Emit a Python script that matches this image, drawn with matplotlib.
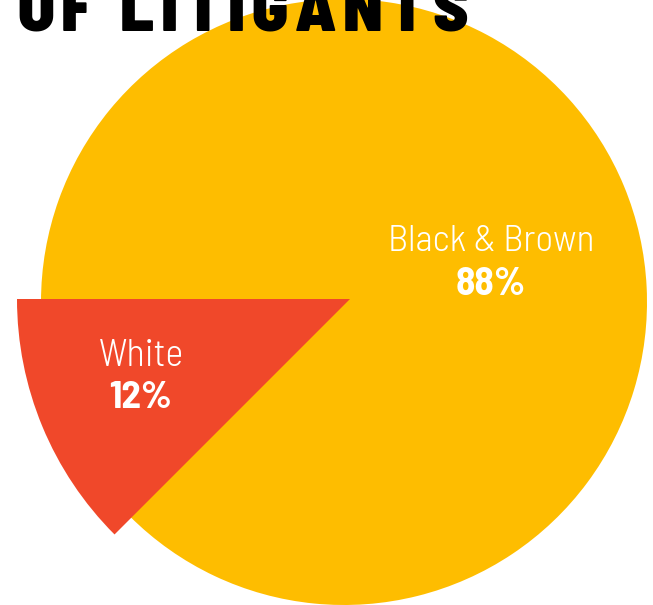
import matplotlib
matplotlib.use("Agg")
import matplotlib.pyplot as plt

# shares (the labels are the rounded figures)
groups = ["Black & Brown", "White"]
shares = [87.5, 12.5]
pct_labels = ["88%", "12%"]
colors = ["#FEBD00", "#F0482A"]
title = "OF LITIGANTS"

W, H = 653, 605
fig = plt.figure(figsize=(W / 100, H / 100), dpi=100)
ax = fig.add_axes([0, 0, 1, 1])

# work in pixel-like units, y measured from the bottom
wedges, _ = ax.pie(shares, colors=colors, startangle=225, counterclock=True,
                   radius=303, center=(344, 303),
                   wedgeprops=dict(linewidth=0))
# the White slice is pulled out and drawn a bit larger
wedges[1].set_radius(333)
wedges[1].set_center((350, 306))
wedges[1].set_zorder(3)

ax.set_xlim(0, W)
ax.set_ylim(0, H)
ax.set_aspect("equal")
ax.axis("off")

fam = "Barlow Semi Condensed"
# labels
ax.text(491, 354, groups[0], color="white", family=fam, weight=300,
        fontsize=27, ha="center", va="baseline", zorder=5)
ax.text(491, 310, pct_labels[0], color="white", family=fam, weight=700,
        fontsize=28.5, ha="center", va="baseline", zorder=5)
ax.text(141, 239, groups[1], color="white", family=fam, weight=300,
        fontsize=27.5, ha="center", va="baseline", zorder=5)
ax.text(140, 197, pct_labels[1], color="white", family=fam, weight=700,
        fontsize=28, ha="center", va="baseline", zorder=5)

# title, mostly cut off at the top, drawn with wide letter spacing
fig.canvas.draw()
r = fig.canvas.get_renderer()
chars = []
for ch in title:
    t = ax.text(0, 574, ch, color="black", family=fam, weight=900,
                fontsize=48, ha="left", va="baseline", zorder=6)
    chars.append((t, t.get_window_extent(r).width))
total = 451
track = (total - sum(w for _, w in chars)) / (len(chars) - 1)
x = 17
for t, w in chars:
    t.set_x(x)
    x += w + track

fig.savefig("out.png", dpi=100)
